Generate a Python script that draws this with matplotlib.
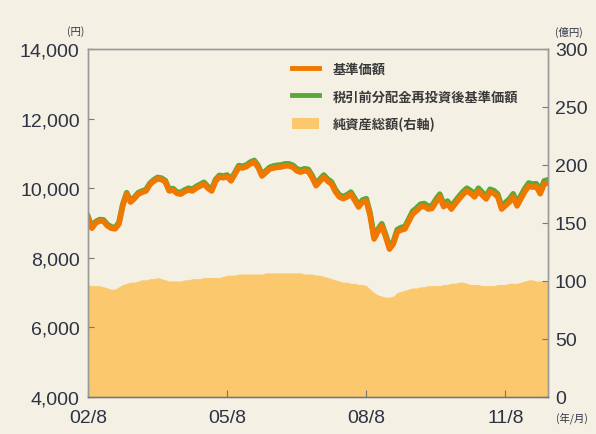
import matplotlib
matplotlib.use("Agg")
import matplotlib.pyplot as plt
from matplotlib.lines import Line2D
from matplotlib.patches import Patch
import numpy as np

# ---- data (monthly, 2002/8 .. 2012/7) ----
nav = [
    9150, 8850, 9000, 9060, 9050, 8920, 8850, 8830, 8970, 9500, 9830, 9600,
    9700, 9830, 9880, 9920, 10100, 10200, 10270, 10250, 10180, 9920, 9950, 9850,
    9830, 9900, 9950, 9920, 10000, 10060, 10120, 10000, 9920, 10200, 10320, 10300,
    10330, 10210, 10400, 10600, 10580, 10620, 10700, 10750, 10600, 10350, 10450, 10550,
    10580, 10600, 10610, 10640, 10640, 10600, 10500, 10460, 10500, 10480, 10300, 10070,
    10200, 10320, 10200, 10120, 9900, 9750, 9700, 9750, 9830, 9650, 9460, 9600,
    9630, 9200, 8540, 8750, 8910, 8600, 8250, 8400, 8740, 8800, 8830, 9050,
    9260, 9350, 9460, 9480, 9400, 9420, 9600, 9750, 9470, 9550, 9400, 9550,
    9690, 9820, 9920, 9850, 9750, 9920, 9800, 9690, 9890, 9850, 9750, 9400,
    9500, 9600, 9750, 9490, 9700, 9900, 10060, 10030, 10040, 9840, 10120, 10150,
]
nav_reinvested = [
    9190, 8890, 9040, 9100, 9090, 8960, 8890, 8870, 9010, 9540, 9870, 9640,
    9740, 9870, 9920, 9960, 10140, 10240, 10310, 10290, 10220, 9960, 9990, 9890,
    9880, 9950, 10000, 9970, 10050, 10110, 10170, 10050, 9970, 10250, 10370, 10350,
    10380, 10260, 10450, 10650, 10630, 10670, 10750, 10800, 10650, 10400, 10500, 10600,
    10640, 10660, 10670, 10700, 10700, 10660, 10560, 10520, 10560, 10540, 10360, 10130,
    10260, 10380, 10260, 10180, 9960, 9810, 9760, 9810, 9890, 9710, 9520, 9660,
    9700, 9270, 8610, 8820, 8980, 8670, 8320, 8470, 8810, 8870, 8900, 9120,
    9340, 9430, 9540, 9560, 9480, 9500, 9680, 9830, 9550, 9630, 9480, 9630,
    9770, 9900, 10000, 9930, 9830, 10000, 9880, 9770, 9970, 9930, 9830, 9480,
    9590, 9690, 9840, 9580, 9790, 9990, 10150, 10120, 10130, 9930, 10210, 10240,
]
net_assets = [
    97, 96, 96, 96, 95, 94, 93, 93, 95, 97, 98, 99,
    99, 100, 101, 101, 102, 102, 103, 102, 101, 100, 100, 100,
    100, 101, 101, 102, 102, 102, 103, 103, 103, 103, 103, 104,
    105, 105, 105, 106, 106, 106, 106, 106, 106, 106, 107, 107,
    107, 107, 107, 107, 107, 107, 107, 107, 106, 106, 106, 105,
    105, 104, 103, 102, 101, 100, 99, 99, 98, 98, 97, 97,
    96, 93, 90, 88, 87, 86, 86, 87, 90, 91, 92, 93,
    94, 94, 95, 95, 96, 96, 96, 96, 97, 97, 98, 98,
    99, 99, 98, 97, 97, 97, 96, 96, 96, 96, 97, 97,
    97, 98, 98, 98, 99, 100, 101, 101, 100, 100, 100, 100,
]
x_tick_pos = [0, 36, 72, 108]
x_tick_labels = ["02/8", "05/8", "08/8", "11/8"]
left_ticks = [4000, 6000, 8000, 10000, 12000, 14000]
left_labels = ["4,000", "6,000", "8,000", "10,000", "12,000", "14,000"]
right_ticks = [0, 50, 100, 150, 200, 250, 300]
legend_labels = ["基準価額", "税引前分配金再投資後基準価額", "純資産総額(右軸)"]

plt.rcParams['font.family'] = ['Liberation Sans', 'Noto Sans CJK JP', 'DejaVu Sans']

ORANGE = '#f07800'
GREEN = '#5aa83a'
FILL = '#fbc86e'
TXT = '#2e3344'
BG = '#f4f0e3'
SPINE = '#9a9a9a'

fig = plt.figure(figsize=(5.96, 4.35), dpi=100, facecolor=BG)
ax = fig.add_axes([88/596, 1-398/435, (548-88)/596, (398-50)/435])
ax2 = ax.twinx()
ax.set_zorder(ax2.get_zorder() + 1)
ax.patch.set_visible(False)
ax2.patch.set_facecolor('white')

months = np.arange(len(nav))
ax2.fill_between(months, 0, net_assets, color=FILL, linewidth=0)
ax.plot(months, nav_reinvested, color=GREEN, lw=4.0, solid_joinstyle='round')
ax.plot(months, nav, color=ORANGE, lw=4.0, solid_joinstyle='round')

ax.set_xlim(0, 119)
ax.set_ylim(4000, 14000)
ax2.set_ylim(0, 300)

ax.set_xticks(x_tick_pos)
ax.set_xticklabels(x_tick_labels)
ax.set_yticks(left_ticks)
ax.set_yticklabels(left_labels)
ax2.set_yticks(right_ticks)

for a in (ax, ax2):
    for s in a.spines.values():
        s.set_color(SPINE)
        s.set_linewidth(1.0)
ax.spines['bottom'].set_color('#777777')

ax.tick_params(axis='x', direction='in', length=5, color='#777777', labelsize=14,
               labelcolor=TXT, pad=9)
ax.tick_params(axis='y', direction='in', length=4, color='#777777', labelsize=14,
               labelcolor=TXT, pad=6)
ax2.tick_params(axis='y', direction='in', length=4, color='#777777', labelsize=14,
                labelcolor=TXT, pad=5)

fig.text(76/596, 1-32/435, "(円)", fontsize=7.5, color=TXT, ha='center', va='center',
         family=['Noto Sans CJK JP'])
fig.text(569/596, 1-32/435, "(億円)", fontsize=7.5, color=TXT, ha='center', va='center',
         family=['Noto Sans CJK JP'])
fig.text(572/596, 1-418/435, "(年/月)", fontsize=7.5, color=TXT, ha='center', va='center',
         family=['Noto Sans CJK JP'])

handles = [Line2D([], [], color=ORANGE, lw=3.5),
           Line2D([], [], color=GREEN, lw=3.5),
           Patch(facecolor=FILL, edgecolor='none')]
leg = ax.legend(handles, legend_labels, loc='upper left',
                bbox_to_anchor=((283-88)/460, 1-4/348), frameon=False,
                prop={'family': ['Noto Sans CJK JP'], 'size': 9.5, 'weight': 'bold'},
                handlelength=2.0, handleheight=0.9, labelspacing=1.0, handletextpad=1.05,
                borderpad=0.2)
for t in leg.get_texts():
    t.set_color('#3a3a3a')

fig.savefig("out.png", dpi=100, facecolor=BG)
